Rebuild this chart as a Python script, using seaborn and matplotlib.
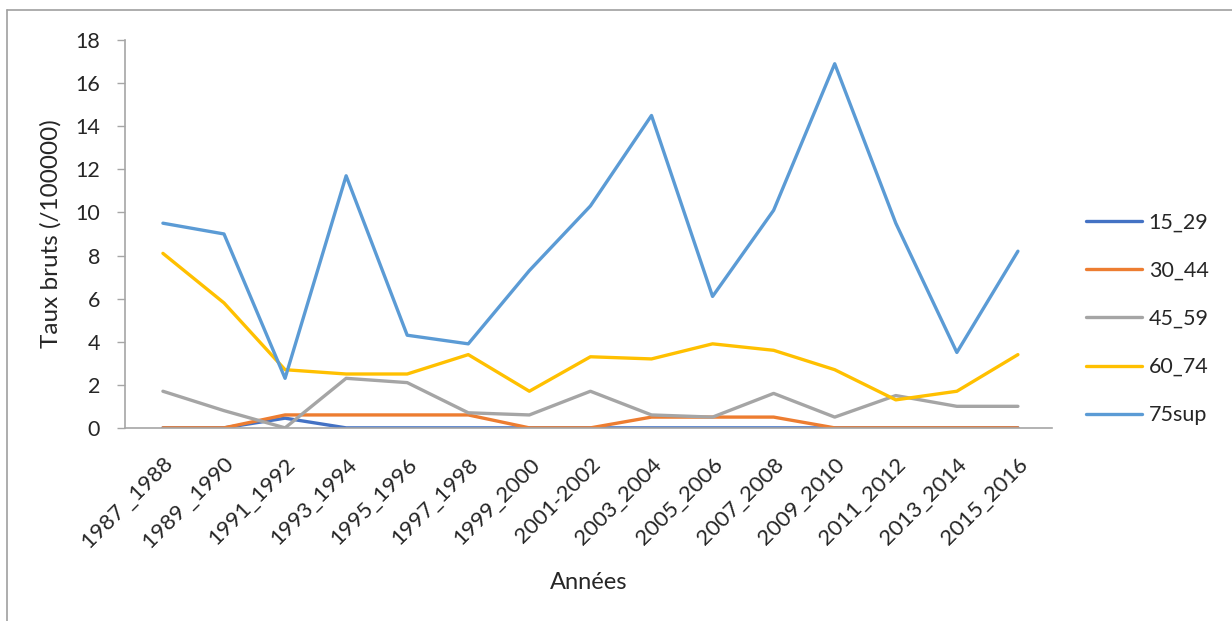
import pandas as pd
import matplotlib.pyplot as plt
import seaborn as sns
from matplotlib.lines import Line2D

# ---------------------------------------------
# Données
# ---------------------------------------------
annees = ['1987 _1988', '1989 _1990', '1991_1992', '1993_1994', '1995_1996',
          '1997_1998', '1999_2000', '2001-2002', '2003_2004', '2005_2006',
          '2007_2008', '2009_2010', '2011_2012', '2013_2014', '2015_2016']

t_15_29 = [0, 0, 0.45, 0, 0, 0, 0, 0, 0, 0, 0, 0, 0, 0, 0]
t_30_44 = [0, 0, 0.6, 0.6, 0.6, 0.6, 0, 0, 0.5, 0.5, 0.5, 0, 0, 0, 0]
t_45_59 = [1.7, 0.8, 0.0, 2.3, 2.1, 0.7, 0.6, 1.7, 0.6, 0.5, 1.6, 0.5, 1.5, 1.0, 1.0]
t_60_74 = [8.1, 5.8, 2.7, 2.5, 2.5, 3.4, 1.7, 3.3, 3.2, 3.9, 3.6, 2.7, 1.3, 1.7, 3.4]
t_75sup = [9.5, 9.0, 2.3, 11.7, 4.3, 3.9, 7.3, 10.3, 14.5, 6.1, 10.1, 16.9, 9.5, 3.5, 8.2]

groupes = ['15_29', '30_44', '45_59', '60_74', '75sup']
couleurs = ['#4472C4', '#ED7D31', '#A5A5A5', '#FFC000', '#5B9BD5']

series = {'15_29': t_15_29, '30_44': t_30_44, '45_59': t_45_59,
          '60_74': t_60_74, '75sup': t_75sup}

rows = []
for g in groupes:
    for i, v in enumerate(series[g]):
        rows.append({'pos': i, 'Années': annees[i], 'groupe': g, 'taux': v})
df = pd.DataFrame(rows)

# ---------------------------------------------
# Graphique
# ---------------------------------------------
sns.set_style('white')
plt.rcParams['font.family'] = ['Lato', 'DejaVu Sans']

fig = plt.figure(figsize=(12.32, 6.21), dpi=100)
ax = fig.add_axes([0.1015, 0.311, 0.752, 0.6245])

sns.lineplot(data=df, x='pos', y='taux', hue='groupe', hue_order=groupes,
             palette=couleurs, linewidth=2.4, ax=ax, legend=False)

ax.set_xlim(-0.62, 14.55)
ax.set_ylim(0, 18)
ax.set_yticks(range(0, 19, 2))
ax.set_xticks(range(len(annees)))
ax.set_xticklabels(annees, rotation=45, ha='right', rotation_mode='anchor', fontsize=16)
ax.tick_params(axis='y', labelsize=15.5, length=6, width=1, color='#A6A6A6', pad=12, direction='out', left=True)
ax.tick_params(axis='x', length=0, pad=19)

for s in ['top', 'right']:
    ax.spines[s].set_visible(False)
for s in ['left', 'bottom']:
    ax.spines[s].set_color('#A6A6A6')
    ax.spines[s].set_linewidth(1.2)

ax.set_xlabel('Années', fontsize=17, labelpad=14)
ax.set_ylabel('Taux bruts (/100000)', fontsize=17.5, labelpad=10)

handles = [Line2D([0], [0], color=c, lw=2.4) for c in couleurs]
fig.legend(handles, groupes, loc='upper left', bbox_to_anchor=(0.866, 0.689),
           frameon=False, fontsize=15.5, handlelength=2.6, labelspacing=1.31,
           handletextpad=0.3)

# cadre du graphique (haut et gauche)
fig.add_artist(Line2D([7 / 1232, 1.0], [1 - 10 / 621, 1 - 10 / 621], color='#A0A0A0', lw=1.2,
                      transform=fig.transFigure))
fig.add_artist(Line2D([7 / 1232, 7 / 1232], [0, 1 - 10 / 621], color='#A0A0A0', lw=1.2,
                      transform=fig.transFigure))

fig.savefig('out.png', dpi=100)
